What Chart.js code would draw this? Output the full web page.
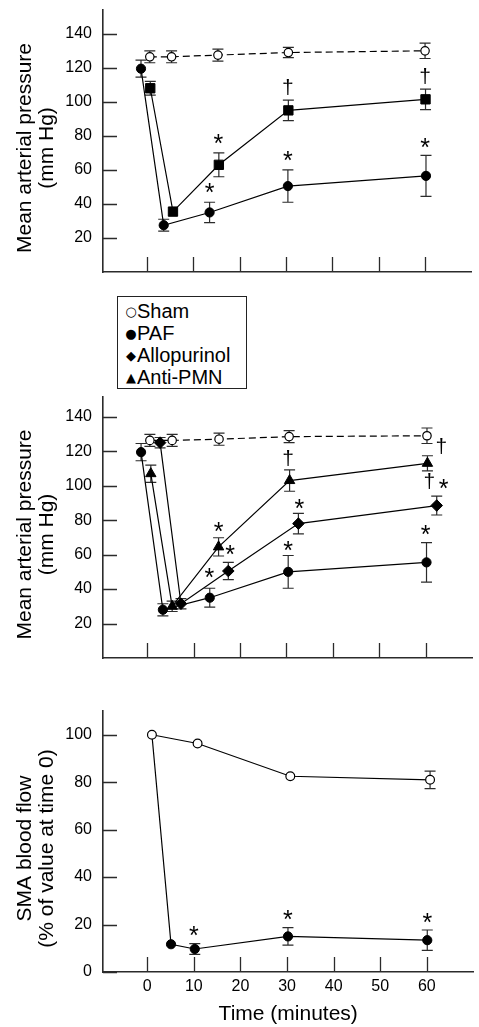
<!DOCTYPE html>
<html>
<head>
<meta charset="utf-8">
<title>Mean arterial pressure and SMA blood flow</title>
<script src="https://cdn.jsdelivr.net/npm/chart.js@4.4.1/dist/chart.umd.min.js"></script>
<style>
  html, body { margin: 0; padding: 0; background: #fff; }
  body { position: relative; width: 479px; height: 1027px; overflow: hidden;
         font-family: "Liberation Sans", Arial, sans-serif; color: #000; }
  canvas { position: absolute; left: 0; }
  #legend { position: absolute; left: 117px; top: 296px; width: 130px; height: 93px;
            box-sizing: border-box; border: 1px solid #222; padding: 3px 0 0 7px; background: #fff; }
  #legend div { height: 22px; line-height: 22px; font-size: 20px; white-space: nowrap; }
  #legend .sym { display: inline-block; width: 12px; text-align: center;
                 font-family: "DejaVu Sans", sans-serif; font-size: 13px; vertical-align: 2px; }
</style>
</head>
<body>
<canvas id="mapTop" width="479" height="290" style="top:0"></canvas>
<canvas id="mapMid" width="479" height="285" style="top:385px"></canvas>
<canvas id="flow" width="479" height="327" style="top:700px"></canvas>
<div id="legend"></div>

<script>
/* ================= DATA ================= */
const xTicks = [0, 10, 20, 30, 40, 50, 60];
const mapTicks = [20, 40, 60, 80, 100, 120, 140];
const flowTicks = [0, 20, 40, 60, 80, 100];

const legendNames = ["Sham", "PAF", "Allopurinol", "Anti-PMN"];
const legendSymbols = ["\u25CB", "\u25CF", "\u25C6", "\u25B2"];

// top panel (mm Hg)
const shamT1 = [0.6, 5.3, 15.3, 30.5, 60];
const shamMap1 = [126.5, 126.5, 127.5, 129, 130];
const shamErr1 = [3.5, 3.5, 3.5, 3, 4.5];
const pafT1 = [-1.3, 3.6, 13.5, 30.4, 60.2];
const pafMap1 = [119.5, 27.5, 35, 50.5, 56.5];
const pafErr1 = [5, 3.5, 6, 9.5, 12];
const sqT1 = [0.7, 5.6, 15.5, 30.5, 60.1];
const sqMap1 = [108, 35.5, 63, 95, 101.5];
const sqErr1 = [4, 0, 7, 6, 6];
const sigX1 = [15.4, 13.5, 30.4, 30.4, 60, 60];
const sigY1 = [79, 50.5, 108.5, 69, 115, 76.5];
const sigT1 = ["*", "*", "\u2020", "*", "\u2020", "*"];

// middle panel (mm Hg)
const shamT2 = [0.6, 5.4, 15.5, 30.6, 60.3];
const shamMap2 = [126.3, 126.3, 127, 128.5, 129];
const shamErr2 = [3.5, 3.5, 3.5, 3.5, 4.5];
const pafT2 = [-1.3, 3.4, 13.5, 30.4, 60.2];
const pafMap2 = [119.5, 28, 35, 50, 55.5];
const pafErr2 = [5, 3.5, 5.5, 9.5, 11.5];
const alloT2 = [2.8, 7.3, 17.5, 32.6, 62.4];
const alloMap2 = [125, 31.5, 50.5, 78, 88.5];
const alloErr2 = [3, 3, 5, 6, 5.5];
const pmnT2 = [0.8, 5.4, 15.4, 30.7, 60.4];
const pmnMap2 = [107, 30, 64.5, 103, 113];
const pmnErr2 = [5, 3, 5.3, 6.2, 4.4];
const sigX2 = [15.4, 17.9, 13.4, 30.4, 32.8, 30.4, 63.4, 60.8, 63.9, 60];
const sigY2 = [77, 63.5, 50, 116, 90.5, 66, 122.5, 102.5, 102, 75];
const sigT2 = ["*", "*", "*", "\u2020", "*", "*", "\u2020", "\u2020", "*", "*"];

// bottom panel (% of value at time 0)
const shamT3 = [1, 10.8, 30.7, 60.7];
const shamFlow = [100, 96.3, 82.5, 81];
const shamFlowErr = [0, 0, 0, 3.7];
const pafT3 = [1, 5.1, 10.2, 30.2, 60.1];
const pafFlow = [100, 11.7, 9.7, 15, 13.4];
const pafFlowErr = [0, 0, 2.3, 3.7, 4.3];
const sigX3 = [10, 30.2, 60.1];
const sigY3 = [17.8, 24.5, 23.6];
const sigT3 = ["*", "*", "*"];

/* ================= PLUGINS ================= */
const INK = "#2b2b2b";

const errorBars = {
  id: "errorBars",
  beforeDatasetsDraw(chart) {
    const ctx = chart.ctx;
    chart.data.datasets.forEach((ds, i) => {
      if (!ds.err) return;
      const meta = chart.getDatasetMeta(i);
      ctx.save();
      ctx.strokeStyle = INK;
      ctx.lineWidth = 1.2;
      ds.data.forEach((p, j) => {
        const e = ds.err[j];
        if (!e) return;
        const x = meta.xScale.getPixelForValue(p.x);
        const y1 = meta.yScale.getPixelForValue(p.y + e);
        const y2 = meta.yScale.getPixelForValue(p.y - e);
        ctx.beginPath();
        ctx.moveTo(x, y1); ctx.lineTo(x, y2);
        ctx.moveTo(x - 5.5, y1); ctx.lineTo(x + 5.5, y1);
        ctx.moveTo(x - 5.5, y2); ctx.lineTo(x + 5.5, y2);
        ctx.stroke();
      });
      ctx.restore();
    });
  }
};

// tick marks pointing into the plot
const innerTicks = {
  id: "innerTicks",
  beforeDatasetsDraw(chart) {
    const { ctx, chartArea, scales } = chart;
    ctx.save();
    ctx.strokeStyle = INK;
    ctx.lineWidth = 1.3;
    ctx.beginPath();
    scales.x.ticks.forEach(t => {
      const px = Math.round(scales.x.getPixelForValue(t.value)) + 0.5;
      ctx.moveTo(px, chartArea.bottom);
      ctx.lineTo(px, chartArea.bottom - 15);
    });
    scales.y.ticks.forEach(t => {
      const py = Math.round(scales.y.getPixelForValue(t.value)) + 0.5;
      ctx.moveTo(chartArea.left, py);
      ctx.lineTo(chartArea.left + 14, py);
    });
    ctx.stroke();
    ctx.restore();
  }
};

const sigMarks = {
  id: "sigMarks",
  afterDatasetsDraw(chart, args, opts) {
    if (!opts.x) return;
    const { ctx, scales } = chart;
    ctx.save();
    ctx.fillStyle = "#000";
    ctx.textAlign = "center";
    ctx.textBaseline = "alphabetic";
    opts.x.forEach((v, i) => {
      const px = scales.x.getPixelForValue(v);
      const py = scales.y.getPixelForValue(opts.y[i]);
      if (opts.t[i] === "*") {
        ctx.font = '25px "Liberation Sans", Arial, sans-serif';
        ctx.fillText("*", px, py + 14.5);
      } else {
        ctx.font = '21px "Liberation Sans", Arial, sans-serif';
        ctx.fillText(opts.t[i], px, py + 6.5);
      }
    });
    ctx.restore();
  }
};

// rotated y-axis title, two lines
const sideTitle = {
  id: "sideTitle",
  afterDraw(chart, args, opts) {
    if (!opts.lines) return;
    const { ctx, chartArea } = chart;
    const cy = (chartArea.top + chartArea.bottom) / 2 + 7;
    ctx.save();
    ctx.fillStyle = "#000";
    ctx.font = '21px "Liberation Sans", Arial, sans-serif';
    ctx.textAlign = "center";
    ctx.textBaseline = "middle";
    opts.lines.forEach((line, i) => {
      ctx.save();
      ctx.translate(25 + i * 22, cy);
      ctx.rotate(-Math.PI / 2);
      ctx.fillText(line, 0, 0);
      ctx.restore();
    });
    ctx.restore();
  }
};

/* ================= HELPERS ================= */
Chart.defaults.font.family = '"Liberation Sans", Arial, sans-serif';
Chart.defaults.color = "#000";

const pts = (xs, ys) => xs.map((x, i) => ({ x, y: ys[i] }));

function series(label, xs, ys, err, style) {
  return Object.assign({
    label,
    data: pts(xs, ys),
    err,
    showLine: true,
    borderColor: "#000",
    borderWidth: 1.2,
    pointBorderColor: "#000",
    pointBackgroundColor: "#000",
    pointBorderWidth: 1,
    pointRadius: 4.6,
    pointStyle: "circle"
  }, style);
}

function makeChart(id, datasets, cfg) {
  return new Chart(document.getElementById(id), {
    type: "scatter",
    data: { datasets },
    plugins: [errorBars, innerTicks, sigMarks, sideTitle],
    options: {
      responsive: false,
      animation: false,
      layout: { padding: { top: cfg.padTop, left: 0, right: 0, bottom: 0 } },
      plugins: {
        legend: { display: false },
        tooltip: { enabled: false },
        sigMarks: cfg.sig,
        sideTitle: { lines: cfg.yTitle }
      },
      scales: {
        x: {
          type: "linear",
          min: -9.5,
          max: 70,
          grid: { display: false, drawTicks: false },
          border: { display: true, color: INK, width: 1.6 },
          ticks: { display: cfg.xLabels, padding: 5, font: { size: 16 } },
          title: { display: cfg.xLabels, text: "Time (minutes)", font: { size: 21 }, padding: 0 },
          afterBuildTicks: s => { s.ticks = xTicks.map(v => ({ value: v })); },
          afterFit: s => { s.height = cfg.xHeight; s.paddingLeft = 0; s.paddingRight = 0; }
        },
        y: {
          type: "linear",
          min: 0,
          max: cfg.yMax,
          grid: { display: false, drawTicks: false },
          border: { display: true, color: INK, width: 1.6 },
          ticks: { padding: 11, font: { size: 16 } },
          afterBuildTicks: s => { s.ticks = cfg.yTicks.map(v => ({ value: v })); },
          afterFit: s => { s.width = 103; s.paddingTop = 0; s.paddingBottom = 0; }
        }
      }
    }
  });
}

const shamStyle = {
  borderDash: [7, 4],
  pointBackgroundColor: "#fff",
  pointBorderWidth: 1.2,
  pointRadius: 4.2
};

/* ================= TOP PANEL ================= */
makeChart("mapTop", [
  series("Sham", shamT1, shamMap1, shamErr1, shamStyle),
  series("PAF", pafT1, pafMap1, pafErr1, {}),
  series("Pretreated", sqT1, sqMap1, sqErr1, { pointStyle: "rect", pointRadius: 6.6 })
], {
  padTop: 10, xHeight: 18, yMax: 154, yTicks: mapTicks, xLabels: false,
  yTitle: ["Mean arterial pressure", "(mm Hg)"],
  sig: { x: sigX1, y: sigY1, t: sigT1 }
});

/* ================= MIDDLE PANEL ================= */
makeChart("mapMid", [
  series("Sham", shamT2, shamMap2, shamErr2, shamStyle),
  series("PAF", pafT2, pafMap2, pafErr2, {}),
  series("Allopurinol", alloT2, alloMap2, alloErr2, { pointStyle: "rectRot", pointRadius: 5.8 }),
  series("Anti-PMN", pmnT2, pmnMap2, pmnErr2, { pointStyle: "triangle", pointRadius: 6 })
], {
  padTop: 12, xHeight: 12, yMax: 151.5, yTicks: mapTicks, xLabels: false,
  yTitle: ["Mean arterial pressure", "(mm Hg)"],
  sig: { x: sigX2, y: sigY2, t: sigT2 }
});

/* ================= BOTTOM PANEL ================= */
makeChart("flow", [
  series("Sham", shamT3, shamFlow, shamFlowErr, {
    pointBackgroundColor: "#fff", pointBorderWidth: 1.2, pointRadius: 4.4
  }),
  series("PAF", pafT3, pafFlow, pafFlowErr, { pointRadius: [0, 4.6, 4.6, 4.6, 4.6] })
], {
  padTop: 11, xHeight: 55, yMax: 110, yTicks: flowTicks, xLabels: true,
  yTitle: ["SMA blood flow", "(% of value at time 0)"],
  sig: { x: sigX3, y: sigY3, t: sigT3 }
});

/* ================= LEGEND ================= */
const legendEl = document.getElementById("legend");
legendNames.forEach((name, i) => {
  const row = document.createElement("div");
  const sym = document.createElement("span");
  sym.className = "sym";
  sym.textContent = legendSymbols[i];
  row.appendChild(sym);
  row.appendChild(document.createTextNode(name));
  legendEl.appendChild(row);
});
</script>
</body>
</html>
